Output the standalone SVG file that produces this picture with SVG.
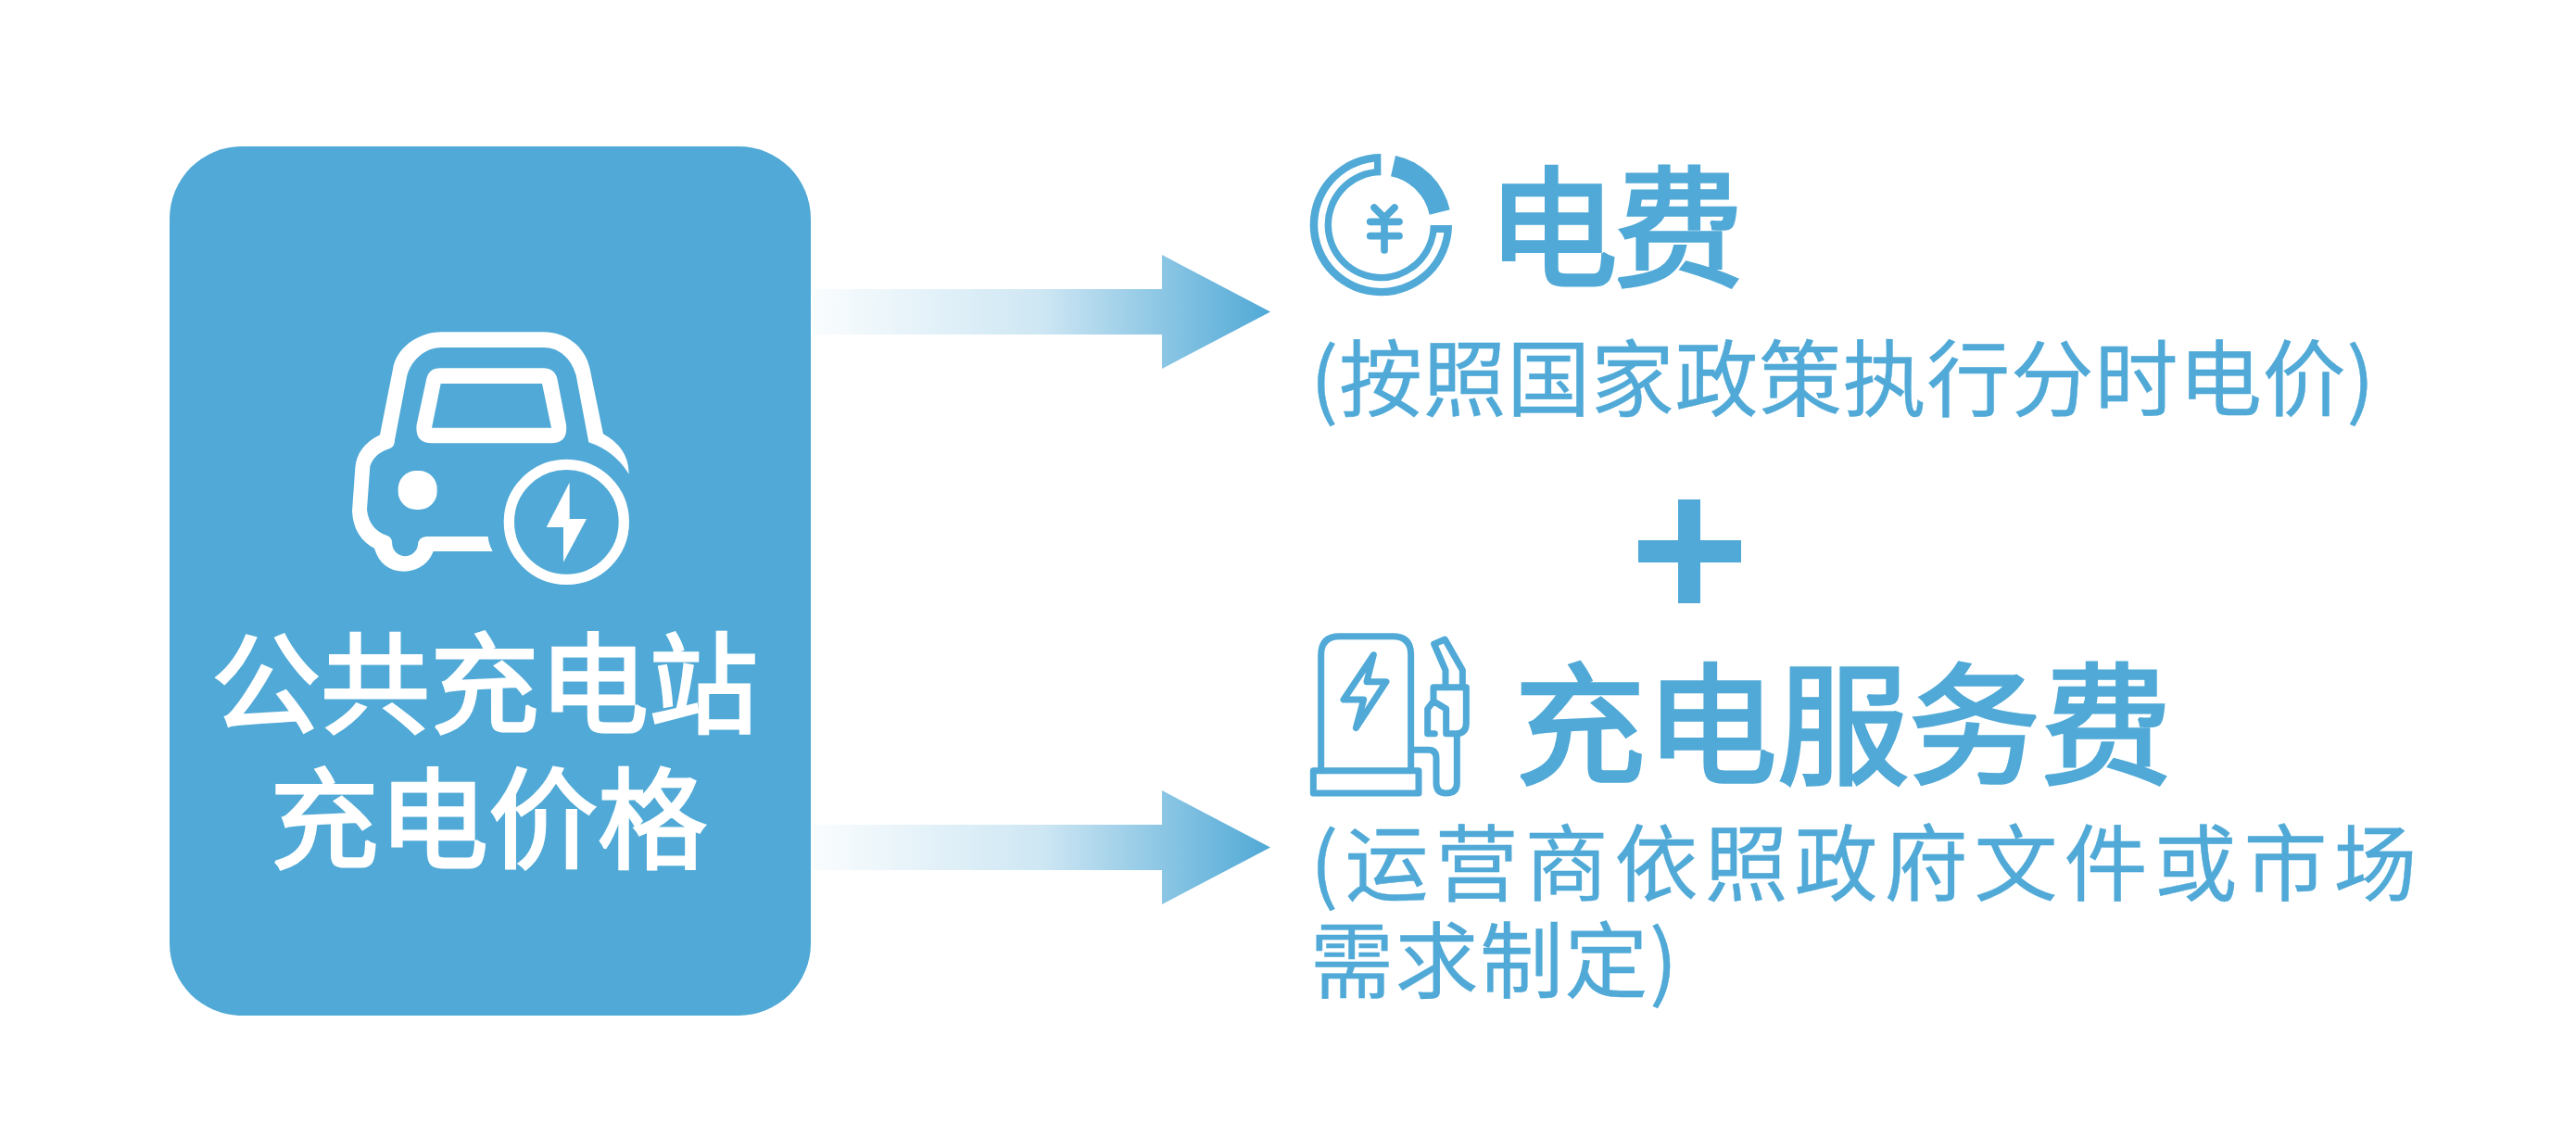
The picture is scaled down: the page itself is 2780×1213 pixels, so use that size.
<svg xmlns="http://www.w3.org/2000/svg" width="2780" height="1213" viewBox="0 0 2780 1213">
<style>
text{font-family:"Noto Sans CJK SC","Noto Sans",sans-serif;stroke-linejoin:miter;stroke-miterlimit:2}
.t{fill:#fff;stroke:#fff;stroke-width:3;font-weight:400;font-size:118px;text-anchor:middle}
.h{fill:#50a9d6;stroke:#50a9d6;stroke-width:3.500;font-weight:400}
.s{fill:#50a9d6;stroke:#50a9d6;stroke-width:.4;font-weight:400;font-size:90px}
.f{fill:#50a9d6;fill-rule:evenodd}
.l{fill:none;stroke:#50a9d6;stroke-linejoin:round;stroke-linecap:round}
</style>
<defs>
<linearGradient id="g" gradientUnits="userSpaceOnUse" x1="877" x2="1371" y1="0" y2="0"><stop offset="0" stop-color="#50a9d6" stop-opacity="0.03"/><stop offset="0.5" stop-color="#50a9d6" stop-opacity="0.28"/><stop offset="1" stop-color="#50a9d6"/></linearGradient>
</defs>
<rect width="2780" height="1213" fill="#fff"/>
<g id="connectors">
<path fill="url(#g)" d="M877,312H1254V275L1371,336.500L1254,398V361H877Z"/>
<path fill="url(#g)" d="M877,890H1254V853L1371,914.500L1254,976V939H877Z"/>
</g>
<g id="price-node">
<rect x="183" y="158" width="692" height="938" rx="78" fill="#50a9d6"/>
<g transform="translate(340,330) scale(.33333)">
<path fill="#fff" fill-rule="evenodd" d="M560,747H360Q333,750 333,775A42,42 0 0 1 250,775Q250,750 235,745Q175,725 168,660L178,520Q190,480 240,463Q258,458 258,435L298,225C315,170 360,135 410,135H740C790,135 830,170 845,225L886,442Q970,470 1016,545Q1016,460 933,415L890,205C875,130 810,85 740,85H410C330,85 262,140 252,205L210,418Q135,455 130,525L120,665Q125,750 192,785Q215,860 290,860Q360,855 383,795H575Q562,772 560,747Z"/>
<path fill="#fff" fill-rule="evenodd" d="M405,202H738Q778,202 785,240L813,385Q820,445 765,445H378Q322,445 329,385L360,240Q367,202 405,202ZM407,252H735L765,395H378Z"/>
<rect x="269" y="534" width="126" height="126" rx="58" fill="#fff"/>
<circle cx="814" cy="700" r="186" fill="none" stroke="#fff" stroke-width="34"/>
<path fill="#fff" d="M824,572V690H879L804,830V717H749Z"/>
</g>
<text class="t" x="523" y="782">公共充电站</text>
<text class="t" x="527" y="928">充电价格</text>
</g>
<g id="electricity-node">
<g transform="translate(1390,150) scale(.33333)">
<path class="f" d="M301,48A230,230 0 1 0 531,279H461A160,160 0 1 1 301,118ZM279,74A205,205 0 1 0 505,303H481A182,182 0 1 1 279,97Z"/>
<path class="f" d="M348,54A230,230 0 0 1 524,229L458,245A160,160 0 0 0 333,121Z"/>
<path class="l" stroke-width="23" d="M279,222L312,255L345,222M266,268H360M266,314H360M312,255V360"/>
</g>
<text class="h" font-size="141" letter-spacing="-5" x="1605" y="298">电费</text>
<text class="s" x="1414" y="442" letter-spacing=".6">(按照国家政策执行分时电价)</text>
</g>
<g id="plus-node"><path fill="#50a9d6" d="M1768,583H1811V539H1835V583H1879V607H1835V651H1811V607H1768Z"/></g>
<g id="service-node">
<g transform="translate(1400,670) scale(.33333)">
<g class="l" stroke-width="21">
<path d="M77,485V110Q77,50 137,50H310Q368,50 368,110V485"/>
<rect x="52" y="485" width="341" height="73"/>
<path d="M378,418H425Q450,418 450,445V525Q450,558 482,558Q517,558 517,525V370"/>
<path d="M441,215H547V330Q547,365 515,365H482V285L441,260L422,285V365H445M441,215V260"/>
<path d="M480,215V160L443,75L478,60L535,160V215"/>
<path d="M247,110L150,255H215L190,347L288,197H225Z"/>
</g>
</g>
<text class="h" font-size="142" x="1634" y="835">充电服务费</text>
<text class="s" x="1414" y="965" letter-spacing="7">(运营商依照政府文件或市场</text>
<text class="s" x="1414" y="1070" letter-spacing="1.500">需求制定)</text>
</g>
</svg>
